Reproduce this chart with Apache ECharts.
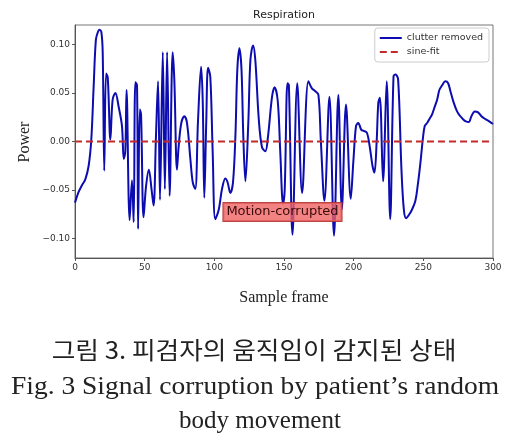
<!DOCTYPE html>
<html>
<head>
<meta charset="utf-8">
<script src="https://cdn.jsdelivr.net/npm/echarts@6/dist/echarts.min.js"></script>
<style>
html,body{margin:0;padding:0;background:#fff;}
#c{width:520px;height:437px;}
</style>
</head>
<body>
<div id="c"></div>
<script>
// ---- data ----
const frames = [0,2.6,5,7.4,9.8,11.7,13.4,15,16.5,17.5,18.9,19.9,21,22.3,23.5,25.4,27,29,31.3,33.7,35,36.1,37,39.2,40.9,42.1,43.3,44.5,45.3,46.5,47.4,49.2,51,53,55,56.4,58.1,59.6,61,63,64.5,66.1,67.9,70.1,71.3,73.2,74.4,76.3,78.5,80.4,82.8,84.5,86.3,88.3,90.5,91.7,92.8,94.2,95.5,97.1,98.8,100.7,103.2,105.5,107.9,109.5,111.5,113.4,115.1,116.5,118,119.5,120.8,122.3,124.4,125.9,127.8,129.4,131.9,134.2,136.6,138.5,141.4,143.2,145.5,147.3,149.3,150.5,152.5,153.5,156.1,159.5,163,167.5,169.9,172.3,174.7,176.4,179,182.6,185.9,189,191.5,194.5,197.9,199.8,201.7,203.3,205.5,207.2,209.5,211.5,213.5,214.9,216.5,217.7,218.8,221.1,223.7,226.2,228.6,230,231.9,234.3,236,237.6,239.5,241.9,244.3,246,247.9,249.6,251,252.7,254.3,256.3,258.2,259.9,261.5,263.5,265.8,267.8,269.4,271.8,274.2,276.6,278.5,280.2,282.6,284.5,286.9,289.3,291.7,294.6,297,300];
const clutterRemoved = [-0.063,-0.052,-0.045,-0.039,-0.025,0.002,0.057,0.105,0.113,0.115,0.113,0.091,-0.030,0.070,0.066,0.002,0.043,0.050,0.036,0.016,-0.018,-0.010,0.053,-0.081,-0.040,-0.083,0.061,0.058,-0.090,0.033,0.028,-0.078,-0.046,-0.029,-0.050,-0.066,0.005,0.062,-0.060,0.092,-0.049,0.092,-0.056,0.092,0.063,-0.029,-0.005,0.019,0.026,0.019,-0.018,-0.042,-0.049,0.022,0.077,0.040,-0.058,0.020,0.076,0.067,-0.010,-0.080,-0.070,-0.049,-0.038,-0.042,-0.053,-0.042,0.005,0.074,0.096,0.074,0.005,-0.041,0.020,0.084,0.099,0.084,0.023,-0.006,-0.010,0.005,0.046,0.056,0.042,-0.010,-0.064,-0.050,0.060,0.058,-0.096,0.060,-0.053,0.062,0.055,0.052,0.048,0.002,-0.061,0.046,-0.097,0.048,-0.070,0.038,-0.059,-0.020,0.016,0.019,0.012,0.011,0.009,-0.005,-0.025,-0.032,0.000,0.040,0.045,-0.041,0.062,-0.080,0.067,0.069,0.064,-0.029,-0.070,-0.079,-0.076,-0.070,-0.061,-0.045,-0.022,0.002,0.016,0.019,0.023,0.028,0.036,0.043,0.053,0.058,0.062,0.060,0.052,0.040,0.031,0.026,0.023,0.021,0.020,0.026,0.031,0.030,0.026,0.023,0.021,0.018];
const sineFrames = [0, 300];
const sineFit = [0, 0];
const xTicks = [0, 50, 100, 150, 200, 250, 300];
const yTicks = [-0.10, -0.05, 0.00, 0.05, 0.10];
const annotation = {text: 'Motion-corrupted', frame: 106.5, power: -0.0725};

const chart = echarts.init(document.getElementById('c'), null, {renderer: 'canvas'});
const fmt = v => (Math.abs(v) < 1e-9 ? '0.00' : v.toFixed(2).replace('-', '\u2212'));
const tickFont = 'DejaVu Sans';
chart.setOption({
  animation: false,
  backgroundColor: '#fff',
  grid: {left: 75, right: 27, top: 25, bottom: 179, show: true, borderColor: '#777', borderWidth: 1},
  xAxis: {
    type: 'value', min: 0, max: 300, interval: 50,
    axisLine: {show: true, onZero: false, lineStyle: {color: '#555'}},
    axisTick: {show: true, length: 3, lineStyle: {color: '#555'}},
    axisLabel: {color: '#333', fontSize: 9, fontFamily: tickFont, margin: 5,
      customValues: xTicks},
    splitLine: {show: false}
  },
  yAxis: {
    type: 'value', min: -0.12, max: 0.12,
    axisLine: {show: true, onZero: false, lineStyle: {color: '#555'}},
    axisTick: {show: true, length: 3, lineStyle: {color: '#555'}, customValues: yTicks},
    axisLabel: {color: '#333', fontSize: 9, fontFamily: tickFont, margin: 5,
      customValues: yTicks, formatter: fmt},
    splitLine: {show: false}
  },
  legend: {
    orient: 'vertical', right: 31, top: 28,
    itemWidth: 22, itemHeight: 10, itemGap: 4,
    padding: [5, 6, 5, 4],
    backgroundColor: '#fff', borderColor: '#ccc', borderWidth: 1, borderRadius: 3,
    itemStyle: {opacity: 0},
    textStyle: {fontSize: 9.5, fontFamily: tickFont, color: '#333'},
    data: ['clutter removed', 'sine-fit']
  },
  graphic: [
    {type: 'text', style: {text: 'Respiration', font: '11px "DejaVu Sans"', fill: '#222', align: 'center', verticalAlign: 'middle'}, x: 284, y: 15},
    {type: 'text', style: {text: 'Power', font: '16px "Liberation Serif"', fill: '#222', align: 'center', verticalAlign: 'middle'}, x: 25, y: 142, rotation: Math.PI / 2},
    {type: 'text', style: {text: 'Sample frame', font: '16px "Liberation Serif"', fill: '#222', align: 'center', verticalAlign: 'middle'}, x: 284, y: 298},
    {type: 'text', style: {text: '그림 3. 피검자의 움직임이 감지된 상태', font: '24px "Noto Sans CJK KR"', fill: '#222', align: 'center', verticalAlign: 'middle'}, x: 254, y: 350, scaleX: 1.07},
    {type: 'text', style: {text: 'Fig. 3 Signal corruption by patient\u2019s random', font: '25px "Liberation Serif"', fill: '#222', align: 'center', verticalAlign: 'middle'}, x: 255, y: 387, scaleX: 1.1},
    {type: 'text', style: {text: 'body movement', font: '25px "Liberation Serif"', fill: '#222', align: 'center', verticalAlign: 'middle'}, x: 260, y: 421}
  ],
  series: [
    {
      name: 'clutter removed', type: 'line', showSymbol: false, symbol: 'none', smooth: 0.35,
      lineStyle: {color: '#0c0cb0', width: 2}, itemStyle: {color: '#0c0cb0'},
      data: frames.map((f, i) => [f, clutterRemoved[i]]),
      z: 3
    },
    {
      name: 'sine-fit', type: 'line', showSymbol: false, symbol: 'none',
      lineStyle: {color: '#c42a2a', width: 2, type: [7, 4]}, itemStyle: {color: '#c42a2a'},
      data: sineFrames.map((f, i) => [f, sineFit[i]]),
      z: 4,
      markPoint: {
        symbol: 'rect', symbolSize: 0,
        data: [{coord: [annotation.frame, annotation.power], value: annotation.text}],
        label: {
          show: true, position: 'right', distance: 0,
          formatter: annotation.text,
          fontSize: 13, fontFamily: tickFont, color: '#3a0a0a',
          backgroundColor: 'rgba(240,100,100,0.8)', borderColor: 'rgba(180,50,50,0.9)', borderWidth: 1,
          padding: [3, 3, 2, 3]
        },
        z: 10
      }
    }
  ]
});
</script>
</body>
</html>
